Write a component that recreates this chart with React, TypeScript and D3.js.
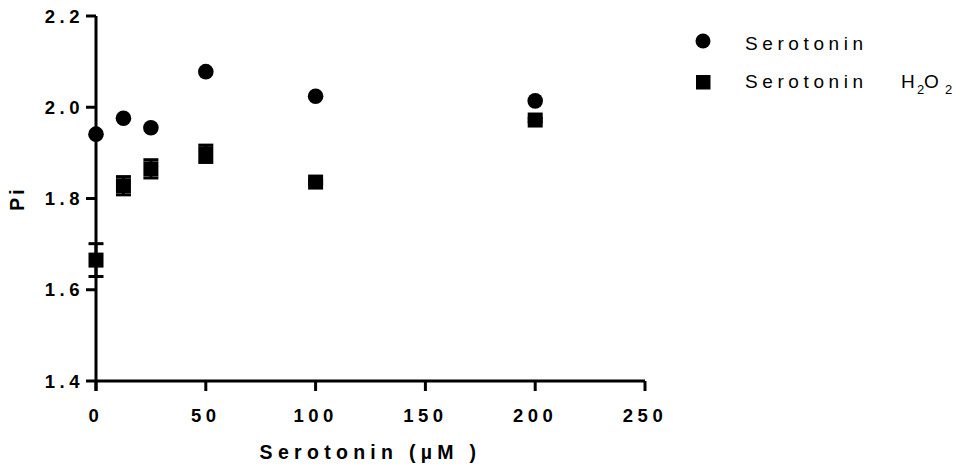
import React from "react";
import * as d3 from "d3";

// Serotonin concentration (µM)
const concentrations = [0, 12.5, 25, 50, 100, 200];
// Pi, serotonin alone
const serotoninPi = [1.941, 1.976, 1.955, 2.078, 2.024, 2.014];
// Pi, serotonin + H2O2, with error
const serotoninH2O2Pi = [1.665, 1.828, 1.865, 1.898, 1.836, 1.972];
const serotoninH2O2Err = [0.036, 0.02, 0.02, 0.019, 0.004, 0.004];

const xTicks = [0, 50, 100, 150, 200, 250];
const yTicks = [1.4, 1.6, 1.8, 2.0, 2.2];

const W = 960;
const H = 469;
const FONT = "'Liberation Sans', Arial, Helvetica, sans-serif";

export default function App() {
  const x = d3.scaleLinear().domain([0, 250]).range([96, 645]);
  const y = d3.scaleLinear().domain([1.4, 2.2]).range([381, 16]);
  const sq = 15;
  const capW = 15;
  const r = 7.8;

  return (
    <svg
      width={W}
      height={H}
      style={{ position: "absolute", left: 0, top: 0, background: "#fff" }}
      fontFamily={FONT}
    >
      {/* axes */}
      <g stroke="#000" strokeWidth={3} fill="none" strokeLinecap="butt">
        <line x1={x(0)} x2={x(0)} y1={y(2.2)} y2={y(1.4) + 10} />
        <line x1={x(0)} x2={x(250)} y1={y(1.4)} y2={y(1.4)} />
        {yTicks.map((t) => (
          <line key={"yt" + t} x1={x(0) - 10} x2={x(0)} y1={y(t)} y2={y(t)} />
        ))}
        {xTicks.map((t) => (
          <line key={"xt" + t} x1={x(t)} x2={x(t)} y1={y(1.4)} y2={y(1.4) + 10} />
        ))}
      </g>

      {/* tick labels */}
      <g fontSize={18.5} fontWeight="bold" fill="#000" letterSpacing={4.5}>
        {yTicks.map((t) => (
          <text key={"yl" + t} x={x(0) - 12} y={y(t)} dy="0.36em" textAnchor="end">
            {d3.format(".1f")(t)}
          </text>
        ))}
        {xTicks.map((t) => (
          <text key={"xl" + t} x={x(t)} y={421.5} textAnchor="middle">
            {t}
          </text>
        ))}
      </g>

      {/* axis titles */}
      <text
        x={(x(0) + x(250)) / 2}
        y={459}
        textAnchor="middle"
        fontSize={19.5}
        fontWeight="bold"
        letterSpacing={5.3}
      >
        Serotonin (µM )
      </text>
      <text
        transform={`translate(24, ${y(1.8)}) rotate(-90)`}
        textAnchor="middle"
        fontSize={19.5}
        fontWeight="bold"
        letterSpacing={3}
      >
        Pi
      </text>

      {/* serotonin + H2O2: error bars and squares */}
      <g stroke="#000" strokeWidth={3}>
        {concentrations.map((c, i) => {
          const lo = y(serotoninH2O2Pi[i] - serotoninH2O2Err[i]);
          const hi = y(serotoninH2O2Pi[i] + serotoninH2O2Err[i]);
          return (
            <g key={"eb" + i}>
              <line x1={x(c)} x2={x(c)} y1={lo} y2={hi} />
              <line x1={x(c) - capW / 2} x2={x(c) + capW / 2} y1={lo} y2={lo} />
              <line x1={x(c) - capW / 2} x2={x(c) + capW / 2} y1={hi} y2={hi} />
            </g>
          );
        })}
      </g>
      <g fill="#000">
        {concentrations.map((c, i) => (
          <rect
            key={"sq" + i}
            x={x(c) - sq / 2}
            y={y(serotoninH2O2Pi[i]) - sq / 2}
            width={sq}
            height={sq}
          />
        ))}
      </g>

      {/* serotonin: circles */}
      <g fill="#000">
        {concentrations.map((c, i) => (
          <circle key={"ci" + i} cx={x(c)} cy={y(serotoninPi[i])} r={r} />
        ))}
      </g>

      {/* legend */}
      <g fill="#000" fontSize={19} letterSpacing={4.6}>
        <circle cx={703} cy={41} r={7.5} />
        <text x={745} y={50}>Serotonin</text>
        <rect x={696} y={75} width={14.5} height={14.5} />
        <text x={745} y={88}>
          Serotonin
          <tspan x={901} letterSpacing={0}>H</tspan>
          <tspan x={917} fontSize={13} dy={6} letterSpacing={0}>2</tspan>
          <tspan x={924} dy={-6} letterSpacing={0}>O</tspan>
          <tspan x={945} fontSize={13} dy={6} letterSpacing={0}>2</tspan>
        </text>
      </g>
    </svg>
  );
}
